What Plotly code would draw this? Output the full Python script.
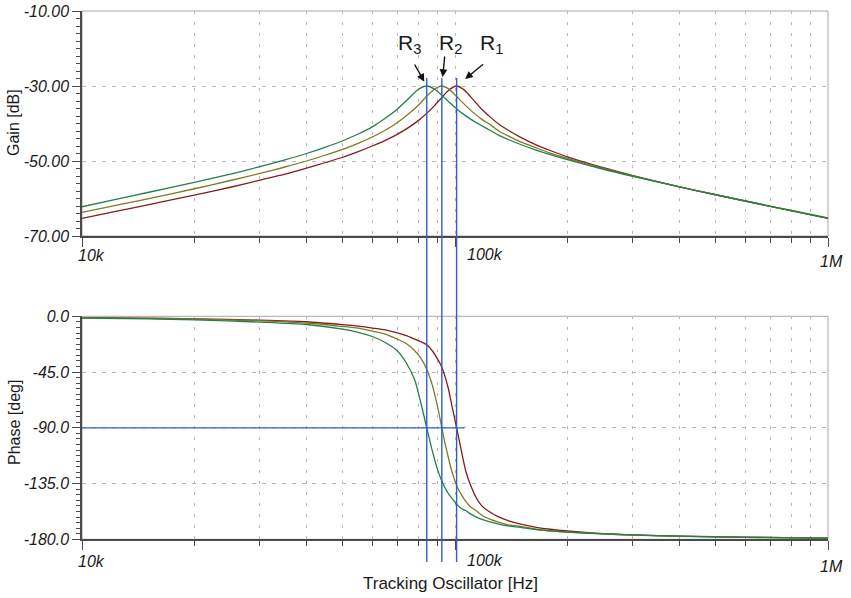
import numpy as np
import plotly.graph_objects as go

# ---- data -------------------------------------------------------------
# Frequency grid of the gain traces (Hz)
gain_freq = [10e3, 12.5e3, 15e3, 20e3, 25e3, 30e3, 35e3, 40e3, 45e3, 50e3,
             55e3, 60e3, 65e3, 70e3, 75e3, 80e3, 84e3, 88e3, 92e3, 96e3,
             101e3, 106e3, 112e3, 118e3, 125e3, 132e3, 140e3, 150e3, 165e3, 180e3,
             200e3, 250e3, 300e3, 400e3, 500e3, 650e3, 800e3, 1e6]
gain_r1 = [-65.3, -63.3, -61.7, -59.1, -57.0, -55.1, -53.5, -51.9, -50.4, -49.0,
           -47.5, -46.0, -44.5, -42.9, -41.1, -39.1, -37.3, -35.3, -33.2, -31.2,
           -30.0, -31.1, -33.7, -36.2, -38.5, -40.4, -42.0, -43.7, -45.7, -47.2,
           -48.9, -51.8, -53.9, -56.9, -59.0, -61.4, -63.3, -65.3]
gain_r2 = [-63.7, -61.7, -60.1, -57.4, -55.2, -53.3, -51.6, -50.0, -48.4, -46.9,
           -45.3, -43.6, -41.8, -39.8, -37.5, -35.0, -32.7, -30.9, -30.0, -30.7,
           -32.8, -34.9, -37.1, -38.9, -40.5, -42.2, -43.5, -44.9, -46.5, -47.9,
           -49.3, -52.0, -54.0, -56.9, -59.0, -61.4, -63.3, -65.3]
gain_r3 = [-62.2, -60.1, -58.4, -55.7, -53.5, -51.5, -49.7, -48.0, -46.3, -44.6,
           -42.8, -40.9, -38.6, -36.2, -33.4, -30.8, -30.0, -30.8, -32.4, -34.1,
           -36.1, -37.7, -39.3, -40.6, -42.0, -43.3, -44.4, -45.6, -47.1, -48.3,
           -49.6, -52.2, -54.1, -56.9, -59.0, -61.4, -63.2, -65.2]

# Frequency grid of the phase traces (Hz)
phase_freq = [10e3, 15e3, 20e3, 30e3, 40e3, 50e3, 55e3, 60e3, 65e3, 70e3,
              74e3, 78e3, 81e3, 84e3, 87e3, 90e3, 92e3, 94e3, 96e3, 98e3,
              101e3, 104e3, 107e3, 110e3, 114e3, 118e3, 124e3, 130e3, 140e3, 150e3,
              165e3, 180e3, 200e3, 250e3, 300e3, 400e3, 600e3, 1e6]
phase_r1 = [-1.0, -1.5, -2.0, -3.1, -4.4, -6.8, -8.0, -9.5, -11.0, -13.4,
            -15.6, -18.5, -20.5, -23.0, -28.0, -35.0, -40.5, -48.5, -58.5, -71.5,
            -90.0, -108.5, -125.5, -136.0, -146.5, -153.0, -158.0, -161.5, -165.3, -167.8,
            -170.3, -171.9, -173.3, -175.4, -176.4, -177.4, -178.3, -179.0]
phase_r2 = [-1.1, -1.7, -2.3, -3.7, -5.4, -8.2, -9.6, -11.9, -14.3, -18.3,
            -22.0, -27.8, -33.8, -42.8, -56.0, -74.3, -88.6, -102.4, -114.0, -124.8,
            -136.5, -144.0, -149.6, -153.7, -157.0, -160.6, -163.7, -165.9, -168.5, -169.6,
            -171.9, -173.1, -174.1, -175.7, -176.6, -177.6, -178.4, -179.1]
phase_r3 = [-1.4, -2.1, -2.9, -4.7, -6.6, -10.4, -12.9, -16.3, -21.1, -27.8,
            -37.5, -51.5, -70.0, -90.0, -109.0, -124.6, -132.3, -138.4, -143.2, -146.8,
            -151.6, -155.1, -157.0, -159.5, -162.1, -163.9, -165.9, -167.5, -169.4, -170.3,
            -172.2, -173.2, -174.2, -175.7, -176.5, -177.5, -178.4, -179.0]

# Resonance frequencies (-90 deg crossing) of R1, R2, R3
resonance_names = ["R<sub>1</sub>", "R<sub>2</sub>", "R<sub>3</sub>"]
resonance_freq = [101e3, 92.2e3, 84e3]
peak_gain = -30.0
marker_phase = -90.0
marker_phase_end = 106e3

# Axis ticks
freq_major = [1e4, 1e5, 1e6]
freq_major_text = ["10k", "100k", "1M"]
freq_minor = [m * d for d in (1e4, 1e5) for m in range(2, 10)]
gain_ticks = [-70, -50, -30, -10]
gain_tick_text = ["-70.00", "-50.00", "-30.00", "-10.00"]
phase_ticks = [-180, -135, -90, -45, 0]
phase_tick_text = ["-180.0", "-135.0", "-90.0", "-45.0", "0.0"]

# ---- styling ----------------------------------------------------------
W, H = 851, 598
FONT = "Liberation Sans, Arial, sans-serif"
TXT = "#1a1a1a"
AXIS = "#4a4a4a"
FRAME = "#a8a8a8"
GRID = "#b8b8b8"
BLUE = "#2c5fc9"
colors = {"R1": "#861c1c", "R2": "#7f7a22", "R3": "#24804a"}

x_dom = [82 / W, 828 / W]
top_dom = [1 - 236 / H, 1 - 11 / H]
bot_dom = [1 - 539.3 / H, 1 - 316.3 / H]
marker_dom = [1 - 562 / H, 1 - 78 / H]   # span of the resonance markers

fig = go.Figure()

line_style = dict(width=1.3, shape="spline", smoothing=0.7)
series = [("R1", gain_r1, phase_r1), ("R2", gain_r2, phase_r2), ("R3", gain_r3, phase_r3)]
for name, g, p in series:
    fig.add_trace(go.Scatter(x=gain_freq, y=g, mode="lines", name=name,
                             line=dict(color=colors[name], **line_style),
                             xaxis="x", yaxis="y", showlegend=False))
    fig.add_trace(go.Scatter(x=phase_freq, y=p, mode="lines", name=name,
                             line=dict(color=colors[name], **line_style),
                             xaxis="x2", yaxis="y2", showlegend=False))

# -90 deg reference line on the phase plot
fig.add_trace(go.Scatter(x=[freq_major[0], marker_phase_end], y=[marker_phase, marker_phase],
                         mode="lines", line=dict(color=BLUE, width=1.3),
                         xaxis="x2", yaxis="y2", showlegend=False, hoverinfo="skip"))

# resonance markers: vertical lines on an overlay axis spanning both plots
for f in resonance_freq:
    fig.add_trace(go.Scatter(x=[f, f], y=[0, 1], mode="lines",
                             line=dict(color=BLUE, width=1.4),
                             xaxis="x3", yaxis="y3", showlegend=False, hoverinfo="skip"))


def x_axis(anchor):
    return dict(type="log", range=[4, 6], domain=x_dom, anchor=anchor, automargin=False,
                tickvals=freq_major, showticklabels=False,
                ticks="outside", ticklen=9, tickwidth=1.2, tickcolor=AXIS,
                showline=True, linecolor=AXIS, linewidth=2,
                showgrid=True, gridcolor=GRID, gridwidth=1, griddash="3px,8px",
                minor=dict(tickvals=freq_minor, ticks="outside", ticklen=5, tickwidth=1,
                           tickcolor=AXIS, showgrid=True, gridcolor=GRID, gridwidth=1,
                           griddash="3px,8px"),
                zeroline=False, fixedrange=True)


def y_axis(anchor, dom, rng, vals, text, minor_step):
    return dict(range=rng, domain=dom, anchor=anchor, automargin=False,
                tickvals=vals, ticktext=text,
                tickfont=dict(family=FONT, size=16, color=TXT, style="italic"),
                ticks="outside", ticklen=8, tickwidth=1.2, tickcolor=AXIS,
                showline=True, linecolor=AXIS, linewidth=1.5,
                showgrid=True, gridcolor=GRID, gridwidth=1, griddash="4px,6px",
                minor=dict(dtick=minor_step, ticks="outside", ticklen=4, tickwidth=1,
                           tickcolor=AXIS, showgrid=False),
                zeroline=False, fixedrange=True)


hidden = dict(visible=False, fixedrange=True, automargin=False)
fig.update_layout(
    width=W, height=H,
    margin=dict(l=0, r=0, t=0, b=0, autoexpand=False),
    paper_bgcolor="white", plot_bgcolor="rgba(0,0,0,0)",
    font=dict(family=FONT, color=TXT),
    xaxis=x_axis("y"),
    yaxis=y_axis("x", top_dom, [-70, -10], gain_ticks, gain_tick_text, 2),
    xaxis2=x_axis("y2"),
    yaxis2=y_axis("x2", bot_dom, [-180, 0], phase_ticks, phase_tick_text, 4.5),
    xaxis3=dict(type="log", range=[4, 6], domain=x_dom, anchor="y3", **hidden),
    yaxis3=dict(range=[0, 1], domain=marker_dom, anchor="x3", **hidden),
)

# light frame around each plot area (top and right edges)
shapes = []
for xr, yr in (("x", "y"), ("x2", "y2")):
    shapes.append(dict(type="rect", xref=f"{xr} domain", yref=f"{yr} domain",
                       x0=0, x1=1, y0=0, y1=1, line=dict(color=FRAME, width=1),
                       layer="below"))
fig.update_layout(shapes=shapes)

ann = []
# frequency tick labels
tick_font = dict(family=FONT, size=16, color=TXT, style="italic")
label_offsets = {"10k": ("left", -6, 0), "100k": ("left", 10, 1), "1M": ("center", 3, -5)}
for xr, yr, dy in (("x", "y", -20), ("x2", "y2", -22)):
    for v, t in zip(freq_major, freq_major_text):
        anchor, sh, extra = label_offsets[t]
        ann.append(dict(x=np.log10(v), y=0, xref=xr, yref=f"{yr} domain",
                        text=t, showarrow=False, xanchor=anchor, yanchor="middle",
                        xshift=sh, yshift=dy + extra, font=tick_font))

# axis titles
title_font = dict(family=FONT, size=16, color=TXT)
ann.append(dict(x=14 / W, y=1 - 123 / H, xref="paper", yref="paper", text="Gain [dB]",
                textangle=-90, showarrow=False, xanchor="center", yanchor="middle",
                font=title_font))
ann.append(dict(x=14 / W, y=1 - 423 / H, xref="paper", yref="paper", text="Phase [deg]",
                textangle=-90, showarrow=False, xanchor="center", yanchor="middle",
                font=title_font))
ann.append(dict(x=450 / W, y=1 - 583 / H, xref="paper", yref="paper",
                text="Tracking Oscillator [Hz]", showarrow=False,
                xanchor="center", yanchor="middle",
                font=dict(family=FONT, size=17, color=TXT)))

# resonance labels with arrows pointing at each peak
arrow_geom = {  # tail offset x/y (px), standoff, label shift x (px)
    "R<sub>1</sub>": (28, -23, 11, 35),
    "R<sub>2</sub>": (3, -31, 9, 9),
    "R<sub>3</sub>": (-13, -23, 5, -17),
}
for name, f in zip(resonance_names, resonance_freq):
    ax, ay, so, tx = arrow_geom[name]
    ann.append(dict(x=np.log10(f), y=peak_gain, xref="x", yref="y", text="",
                    showarrow=True, ax=ax, ay=ay, axref="pixel", ayref="pixel",
                    arrowhead=2, arrowsize=1.1, arrowwidth=1.4, arrowcolor="#111111",
                    standoff=so))
    ann.append(dict(x=np.log10(f), y=-20, xref="x", yref="y", text=name,
                    showarrow=False, xanchor="center", yanchor="middle", xshift=tx,
                    yshift=4, font=dict(family=FONT, size=21, color=TXT)))
fig.update_layout(annotations=ann)

fig.write_html("out.html")
